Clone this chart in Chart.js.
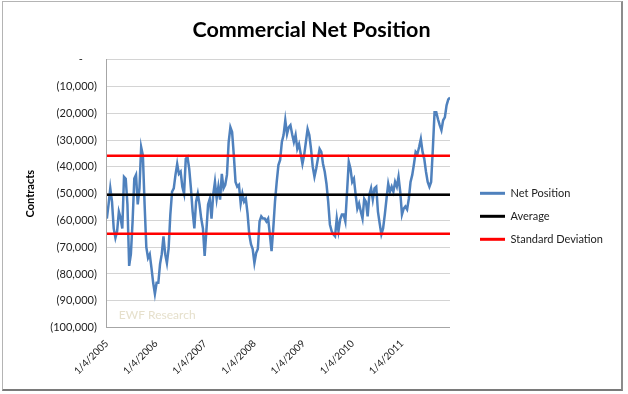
<!DOCTYPE html>
<html>
<head>
<meta charset="utf-8">
<script src="https://cdn.jsdelivr.net/npm/chart.js@4.4.1/dist/chart.umd.min.js"></script>
<style>
  body { margin: 0; background: #fff; }
  #frame {
    position: absolute; left: 2px; top: 1px;
    width: 618px; height: 387px;
    border: 1px solid #b4b4b4;
    border-right: 2px solid #8c8c8c;
    border-bottom: 2px solid #7a7a7a;
    background: #fff;
  }
  #wrap { position: relative; width: 617px; height: 377px; }
</style>
</head>
<body>
<div id="frame"><div id="wrap"><canvas id="cotChart"></canvas></div></div>
<script>
// Commercial net position (about every 1.75 px)
var startYear = 2005;      // 1/4/2005
var stepYears = 0.0349;    // spacing between readings

var netPosition = [
  -59300, -54000, -48000, -53000, -63000, -66500, -64000, -56700, -59000, -63000,
  -43700, -44400, -54000, -77000, -72600, -60400, -44400, -43000, -54000, -48000,
  -32600, -35700, -54000, -70000, -74000, -72600, -77700, -83300, -87400, -83300,
  -83300, -76300, -72600, -66000, -72600, -75900, -70400, -57800, -49300, -48000,
  -43000, -38900, -42600, -41800, -47400, -50000, -37000,
  -36300, -40700, -48000, -56700, -63000, -53000, -50000, -54000, -59300, -63000,
  -73300, -64000, -54000, -51900, -59300, -50400, -45600, -51900, -47400, -52200,
  -42600, -48000, -46700, -43000, -30700, -25200, -27000, -35600, -45600, -47400,
  -46700, -53700, -50000, -53000, -51900, -57400, -65200, -68900, -70700, -75900,
  -72200, -70700, -60400, -58500, -59300,
  -59300, -60400, -59300, -65200, -71500, -63000, -53000, -45600, -39300, -37400,
  -30700, -28100, -22600, -27800, -25200, -24400, -27800, -30700, -28100, -33300,
  -31500, -35200, -38900, -35600, -30700, -25900, -28100, -33300, -40000, -43700,
  -40700, -37000, -33300, -34400, -38900, -41800, -46300, -53000, -61500, -64000,
  -65200, -65900, -59300, -64000, -59600, -57800, -57800, -60400, -49300,
  -38100, -40700, -45600, -44400, -50400, -55600, -53700, -56700, -59300, -51900,
  -53000, -58500, -50400, -48000, -52200, -48000, -47400, -56700, -61100, -65200,
  -63000, -57800, -51900, -46300, -49300, -47400, -49300, -45600, -47400, -43700,
  -49300, -57800, -55600, -54800, -55900, -51900, -45600, -43000, -38900, -34400,
  -35200, -32600, -29600, -34400, -37000, -41800, -45600, -47400, -45600, -33300,
  -19600, -19600, -22200, -24400, -26300, -22600, -21500, -17000, -14800, -14100
];

var averageValue = -50400;
var stdDevValue = 14600;

var seriesNames = ['Net Position', 'Average', 'Standard Deviation'];

var yMin = -100000, yMax = 0, yStep = 10000;

var netPoints = netPosition.map(function (v, i) {
  return {x: startYear + i * stepYears, y: v};
});
var lastX = netPoints[netPoints.length - 1].x;

function flatLine(v) {
  return [{x: startYear, y: v}, {x: lastX, y: v}];
}

var FONT = "Lato, 'Open Sans', sans-serif";

// faint watermark in the lower left of the plot
var watermark = {
  id: 'watermark',
  beforeDatasetsDraw: function (chart) {
    var a = chart.chartArea, ctx = chart.ctx;
    ctx.save();
    ctx.font = '12px ' + FONT;
    ctx.fillStyle = '#e6e0cc';
    ctx.textBaseline = 'middle';
    ctx.fillText('EWF Research', a.left + 12, a.bottom - 12);
    ctx.restore();
  }
};

new Chart(document.getElementById('cotChart'), {
  type: 'line',
  data: {
    datasets: [
      {label: seriesNames[0], data: netPoints, borderColor: '#4f81bd', backgroundColor: '#4f81bd',
       borderWidth: 2.5, pointRadius: 0, order: 3},
      {label: seriesNames[1], data: flatLine(averageValue), borderColor: '#000000', backgroundColor: '#000000',
       borderWidth: 2.5, pointRadius: 0, order: 1},
      {label: seriesNames[2], data: flatLine(averageValue + stdDevValue), borderColor: '#ff0000', backgroundColor: '#ff0000',
       borderWidth: 2.5, pointRadius: 0, order: 0},
      {label: 'lower', data: flatLine(averageValue - stdDevValue), borderColor: '#ff0000', backgroundColor: '#ff0000',
       borderWidth: 2.5, pointRadius: 0, order: 0}
    ]
  },
  options: {
    responsive: true,
    maintainAspectRatio: false,
    animation: false,
    layout: {padding: {left: 7, right: 7, top: 0, bottom: 0}},
    plugins: {
      title: {
        display: true,
        text: 'Commercial Net Position',
        color: '#000',
        font: {family: FONT, size: 21.5, weight: 'bold'},
        padding: {top: 15, bottom: 17}
      },
      legend: {
        position: 'right',
        // empty title only pushes the entries down a little
        title: {display: true, text: '', font: {size: 8}, padding: {top: 42, bottom: 0}},
        labels: {
          color: '#222',
          font: {family: FONT, size: 11},
          boxWidth: 25,
          boxHeight: 3,
          padding: 12,
          filter: function (item) { return item.text !== 'lower'; },
          sort: function (a, b) { return a.datasetIndex - b.datasetIndex; },
          generateLabels: function (chart) {
            return Chart.defaults.plugins.legend.labels.generateLabels(chart).map(function (l) {
              l.lineWidth = 0;
              return l;
            });
          }
        }
      },
      tooltip: {enabled: false}
    },
    scales: {
      x: {
        type: 'linear',
        min: startYear,
        max: lastX,
        grid: {display: false},
        border: {color: '#a6a6a6'},
        ticks: {
          stepSize: 1,
          includeBounds: false,
          autoSkip: false,
          maxRotation: 45,
          minRotation: 45,
          padding: 2,
          color: '#222',
          font: {family: FONT, size: 10},
          callback: function (v) { return '1/4/' + v; }
        }
      },
      y: {
        min: yMin,
        max: yMax,
        grid: {color: '#d4d4d4', drawTicks: false},
        border: {color: '#a6a6a6'},
        title: {
          display: true,
          text: 'Contracts',
          color: '#000',
          font: {family: FONT, size: 11, weight: 'bold'},
          padding: {top: 14, bottom: 3}
        },
        ticks: {
          stepSize: yStep,
          padding: 10,
          color: '#222',
          font: {family: FONT, size: 11},
          callback: function (v) {
            if (v === 0) return '-     ';
            return '(' + Math.abs(v).toLocaleString('en-US') + ')';
          }
        }
      },
      // hidden spacer between plot and legend
      gap: {
        position: 'right',
        display: false,
        afterFit: function (s) { s.width = 18; }
      }
    }
  },
  plugins: [watermark]
});
</script>
</body>
</html>
